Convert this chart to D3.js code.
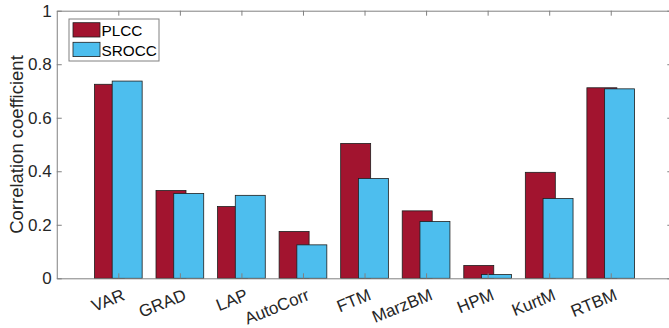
<!DOCTYPE html>
<html>
<head>
<meta charset="utf-8">
<script src="https://cdn.jsdelivr.net/npm/d3@7"></script>
<style>
  html, body { margin: 0; padding: 0; background: #fff; }
  svg { display: block; font-family: "Liberation Sans", Arial, Helvetica, sans-serif; }
</style>
</head>
<body>
<div id="chart"></div>
<script>
// ── Data ────────────────────────────────────────────────────────────────────
const categories = ['VAR', 'GRAD', 'LAP', 'AutoCorr', 'FTM', 'MarzBM', 'HPM', 'KurtM', 'RTBM'];
const plcc  = [0.725, 0.328, 0.268, 0.175, 0.504, 0.252, 0.048, 0.396, 0.712];
const srocc = [0.737, 0.317, 0.310, 0.125, 0.373, 0.212, 0.014, 0.298, 0.708];
const yTicks = [0, 0.2, 0.4, 0.6, 0.8, 1];
const seriesNames = ['PLCC', 'SROCC'];

const PLCC_COLOR = '#A2142F';
const SROCC_COLOR = '#4DBEEE';
const AXIS_COLOR = '#808080';
const TEXT_COLOR = '#262626';

const W = 669, H = 328;
// plot box (right edge falls just outside the picture, as in the reference)
const BOX = { left: 56.75, right: 672.3, top: 10.7, bottom: 278.3 };
const BAR_W = 0.487;     // in category units
const OFFSET = 0.144;    // group offset of each series

const x = d3.scaleLinear().domain([0, 10]).range([BOX.left, BOX.right]);
const y = d3.scaleLinear().domain([0, 1]).range([BOX.bottom, BOX.top]);

const svg = d3.select('#chart').append('svg')
    .attr('width', W)
    .attr('height', H)
    .attr('viewBox', `0 0 ${W} ${H}`);

// ── Bars ────────────────────────────────────────────────────────────────────
function drawSeries(values, color, offset, cls) {
    svg.append('g').selectAll('rect.' + cls)
        .data(values)
        .join('rect')
        .attr('class', cls)
        .attr('x', (d, i) => x(i + 1 + offset - BAR_W / 2))
        .attr('y', d => y(d))
        .attr('width', x(BAR_W) - x(0))
        .attr('height', d => y(0) - y(d))
        .attr('fill', color)
        .attr('stroke', '#1e1e1e')
        .attr('stroke-width', 0.8);
}

drawSeries(plcc, PLCC_COLOR, -OFFSET, 'plcc');
drawSeries(srocc, SROCC_COLOR, OFFSET, 'srocc');

// ── Axes (MATLAB style: box on, ticks inward, mirrored) ─────────────────────
function styleAxis(sel) {
    sel.select('.domain').attr('stroke', AXIS_COLOR).attr('stroke-width', 1);
    sel.selectAll('.tick line').attr('stroke', AXIS_COLOR).attr('stroke-width', 1);
    sel.selectAll('.tick text')
        .attr('fill', TEXT_COLOR)
        .attr('font-size', '17px')
        .attr('font-family', '"Liberation Sans", Arial, Helvetica, sans-serif');
}

const xTickVals = categories.map((c, i) => i + 1);

// bottom
const gx = svg.append('g')
    .attr('transform', `translate(0,${BOX.bottom})`)
    .call(d3.axisBottom(x).tickValues(xTickVals)
        .tickFormat(d => categories[d - 1])
        .tickSizeInner(-5).tickSizeOuter(0))
    .call(styleAxis);
gx.selectAll('.tick text')
    .attr('x', 0).attr('y', 0).attr('dy', 0)
    .attr('text-anchor', 'end')
    .attr('transform', 'translate(7,21) rotate(-22)');

// top
svg.append('g')
    .attr('transform', `translate(0,${BOX.top})`)
    .call(d3.axisTop(x).tickValues(xTickVals).tickFormat('')
        .tickSizeInner(-5).tickSizeOuter(0))
    .call(styleAxis);

// left
svg.append('g')
    .attr('transform', `translate(${BOX.left},0)`)
    .call(d3.axisLeft(y).tickValues(yTicks).tickFormat(d => d)
        .tickSizeInner(-5).tickSizeOuter(0).tickPadding(5))
    .call(styleAxis);

// right
svg.append('g')
    .attr('transform', `translate(${BOX.right},0)`)
    .call(d3.axisRight(y).tickValues(yTicks).tickFormat('')
        .tickSizeInner(-5).tickSizeOuter(0))
    .call(styleAxis);

// y label
svg.append('text')
    .attr('transform', `translate(23,${(BOX.top + BOX.bottom) / 2}) rotate(-90)`)
    .attr('text-anchor', 'middle')
    .attr('font-size', '18.5px')
    .attr('fill', TEXT_COLOR)
    .text('Correlation coefficient');

// ── Legend ──────────────────────────────────────────────────────────────────
const legend = svg.append('g').attr('transform', 'translate(69,19)');
legend.append('rect')
    .attr('width', 90).attr('height', 42)
    .attr('fill', '#fff')
    .attr('stroke', AXIS_COLOR)
    .attr('stroke-width', 1);

const legendColors = [PLCC_COLOR, SROCC_COLOR];
const item = legend.selectAll('g.item')
    .data(seriesNames)
    .join('g')
    .attr('class', 'item')
    .attr('transform', (d, i) => `translate(4,${3.7 + i * 19.6})`);
item.append('rect')
    .attr('width', 27).attr('height', 14.3)
    .attr('fill', (d, i) => legendColors[i])
    .attr('stroke', '#1e1e1e')
    .attr('stroke-width', 0.8);
item.append('text')
    .attr('x', 28.5).attr('y', 13.3)
    .attr('font-size', '15.3px')
    .attr('fill', '#000')
    .text(d => d);
</script>
</body>
</html>
